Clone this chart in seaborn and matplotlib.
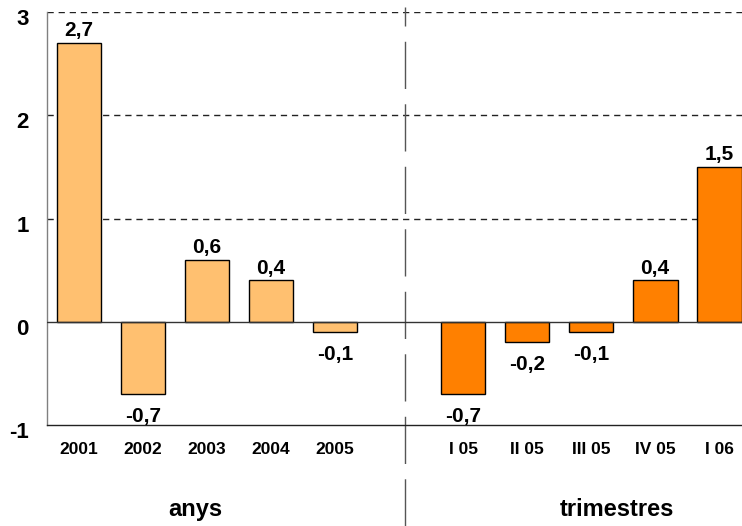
"""Bar chart: annual and quarterly change (anys / trimestres)."""

import matplotlib.pyplot as plt
import matplotlib.transforms as mtransforms
import pandas as pd
import seaborn as sns

years = ["2001", "2002", "2003", "2004", "2005"]
year_values = [2.7, -0.7, 0.6, 0.4, -0.1]
quarters = ["I 05", "II 05", "III 05", "IV 05", "I 06"]
quarter_values = [-0.7, -0.2, -0.1, 0.4, 1.5]
gap_label = " "
group_labels = ["anys", "trimestres"]
y_ticks = [-1, 0, 1, 2, 3]

LIGHT = "#FFC070"
DARK = "#FF8000"

df = pd.DataFrame({
    "cat": years + quarters,
    "val": year_values + quarter_values,
    "grp": ["anys"] * len(years) + ["trimestres"] * len(quarters),
})
order = years + [gap_label] + quarters

sns.set_style("white")
plt.rcParams["font.family"] = ["Liberation Sans", "DejaVu Sans"]
plt.rcParams["font.weight"] = "bold"
plt.rcParams["text.color"] = "black"
plt.rcParams["xtick.color"] = "black"
plt.rcParams["ytick.color"] = "black"

fig = plt.figure(figsize=(7.42, 5.26), dpi=100)
ax = fig.add_axes([0.0633, 0.192, 0.949, 0.785])

for y in [1, 2, 3]:
    ax.axhline(y, color="#222222", lw=1, ls=(0, (4.5, 3.5)), zorder=0)

sns.barplot(df, x="cat", y="val", hue="grp", order=order, dodge=False,
            palette={"anys": LIGHT, "trimestres": DARK}, saturation=1,
            width=0.7, edgecolor="black", linewidth=1, legend=False,
            ax=ax, zorder=2)

ax.axhline(0, color="#333333", lw=1, zorder=3)

# value labels
for cat, val in zip(df["cat"], df["val"]):
    xpos = order.index(cat)
    txt = f"{val:.1f}".replace(".", ",")
    if val >= 0:
        ax.annotate(txt, (xpos, val), xytext=(0, 2), textcoords="offset points",
                    ha="center", va="bottom", fontsize=15, fontweight="bold")
    else:
        ax.annotate(txt, (xpos, val), xytext=(0, -9), textcoords="offset points",
                    ha="center", va="top", fontsize=15, fontweight="bold")

ax.set_xlim(-0.5, 10.5)
ax.set_ylim(-1, 3)
ax.set_yticks(y_ticks)
ax.set_yticklabels([str(t) for t in y_ticks], fontsize=16, fontweight="bold")
ax.tick_params(axis="y", length=0, pad=13)
ax.tick_params(axis="x", length=0, pad=12, labelsize=12.5)
for lab in ax.get_xticklabels():
    lab.set_fontweight("bold")
offset = mtransforms.ScaledTranslation(0, -5 / 100, fig.dpi_scale_trans)
for lab in ax.get_yticklabels():
    lab.set_transform(lab.get_transform() + offset)
ax.set_xlabel("")
ax.set_ylabel("")

for side in ["top", "right"]:
    ax.spines[side].set_visible(False)
ax.spines["left"].set_color("#808080")
ax.spines["left"].set_linewidth(1)
ax.spines["bottom"].set_color("#222222")
ax.spines["bottom"].set_linewidth(1)
ax.spines["bottom"].set_position(("data", -1))

# separator between annual and quarterly blocks
ax.axvline(5.1, ymin=-0.245, ymax=1.012, color="#555555", lw=1,
           ls=(0, (34, 11)), clip_on=False, zorder=1)

ax.text(1.81, -1.82, group_labels[0], ha="center", va="center",
        fontsize=17, fontweight="bold")
ax.text(8.4, -1.82, group_labels[1], ha="center", va="center",
        fontsize=17, fontweight="bold")

fig.savefig("out.png", dpi=100)
